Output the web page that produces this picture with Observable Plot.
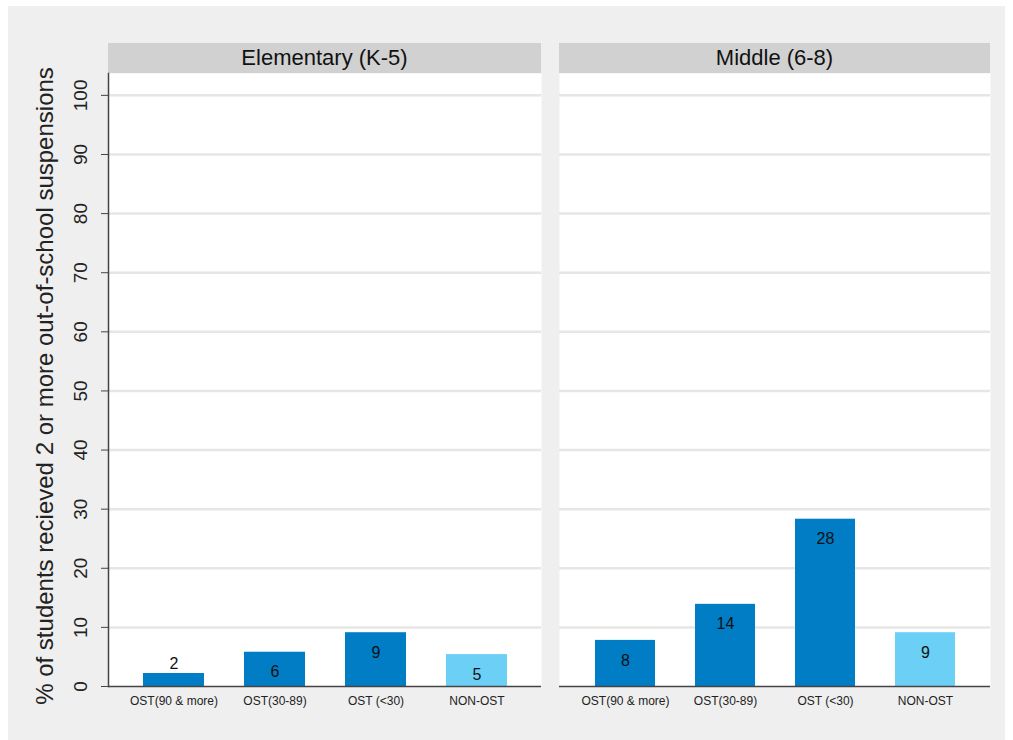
<!DOCTYPE html>
<html>
<head>
<meta charset="utf-8">
<script src="https://cdn.jsdelivr.net/npm/d3@7"></script>
<script src="https://cdn.jsdelivr.net/npm/@observablehq/plot@0.6"></script>
<style>
  html, body { margin: 0; padding: 0; background: #ffffff; }
  body { width: 1013px; height: 740px; position: relative; overflow: hidden; font-family: Arial, "Liberation Sans", sans-serif; }
  #bg { position: absolute; left: 8px; top: 6px; width: 997px; height: 734px; background: #efefef; }
  .hdr { position: absolute; top: 43px; height: 30px; background: #d1d1d1; color: #111; font-size: 22px; line-height: 30px; text-align: center; }
  .panel { position: absolute; top: 73px; }
  svg { overflow: visible; }
</style>
</head>
<body>
<div id="bg"></div>
<div class="hdr" style="left:108px; width:433px;" id="h1"></div>
<div class="hdr" style="left:559px; width:431px;" id="h2"></div>
<div class="panel" id="p1" style="left:8px;"></div>
<div class="panel" id="p2" style="left:559px;"></div>
<script>
// ---- data ----
const panels = ["Elementary (K-5)", "Middle (6-8)"];
const categories = ["OST(90 & more)", "OST(30-89)", "OST (<30)", "NON-OST"];
const elementaryValues = [2.2, 5.8, 9.1, 5.4];
const middleValues = [7.8, 13.9, 28.3, 9.1];
const yTicks = [0, 10, 20, 30, 40, 50, 60, 70, 80, 90, 100];
const yTitle = "% of students recieved 2 or more out-of-school suspensions";

// ---- styles ----
const barColors = ["#007dc5", "#007dc5", "#007dc5", "#6ccff6"];
const font = "Arial, 'Liberation Sans', sans-serif";

document.getElementById("h1").textContent = panels[0];
document.getElementById("h2").textContent = panels[1];

function rows(values) {
  return categories.map((c, i) => ({category: c, value: values[i]}));
}

function panel(values, withAxis) {
  const data = rows(values);
  const marks = [
    Plot.frame({fill: "white", stroke: null}),
    Plot.gridY(yTicks.filter(d => d > 0), {stroke: "#e6e6e6", strokeWidth: 2.5, strokeOpacity: 1}),
    Plot.barY(data, {x: "category", y: "value", fill: "category"}),
    Plot.text(data.filter(d => d.value >= 4), {x: "category", y: "value", text: d => String(Math.round(d.value)), dy: 20, fontSize: 16, fill: "#111"}),
    Plot.text(data.filter(d => d.value < 4), {x: "category", y: "value", text: d => String(Math.round(d.value)), dy: -10, fontSize: 16, fill: "#111"}),
    Plot.ruleY([0], {stroke: "#444", strokeWidth: 1.5}),
    Plot.axisX({tickSize: 0, tickPadding: 10, fontSize: 12, label: null, fill: "#222"})
  ];
  if (withAxis) {
    marks.push(
      Plot.frame({anchor: "left", stroke: "#444", strokeWidth: 1.5}),
      Plot.axisY({ticks: yTicks, tickSize: 7, tickFormat: () => "", label: null, stroke: "#444"}),
      Plot.text(yTicks, {y: d => d, text: d => String(d), frameAnchor: "left", textAnchor: "middle", dx: -28, rotate: -90, fontSize: 19, fill: "#222"}),
      Plot.text([yTitle], {text: d => d, frameAnchor: "left", textAnchor: "middle", dx: -63, dy: 6, rotate: -90, fontSize: 24, fill: "#222"})
    );
  } else {
    marks.push(Plot.axisY({ticks: [], label: null}));
  }
  return Plot.plot({
    width: withAxis ? 533 : 431,
    height: 663,
    marginLeft: withAxis ? 100 : 0,
    marginRight: 0,
    marginTop: 0,
    marginBottom: 50,
    style: {fontFamily: font, background: "transparent", color: "#222"},
    x: {domain: categories, paddingInner: 0.4, paddingOuter: 0.34, label: null},
    y: {domain: [0, 103.7], label: null},
    color: {domain: categories, range: barColors},
    marks
  });
}

document.getElementById("p1").appendChild(panel(elementaryValues, true));
document.getElementById("p2").appendChild(panel(middleValues, false));
</script>
</body>
</html>
